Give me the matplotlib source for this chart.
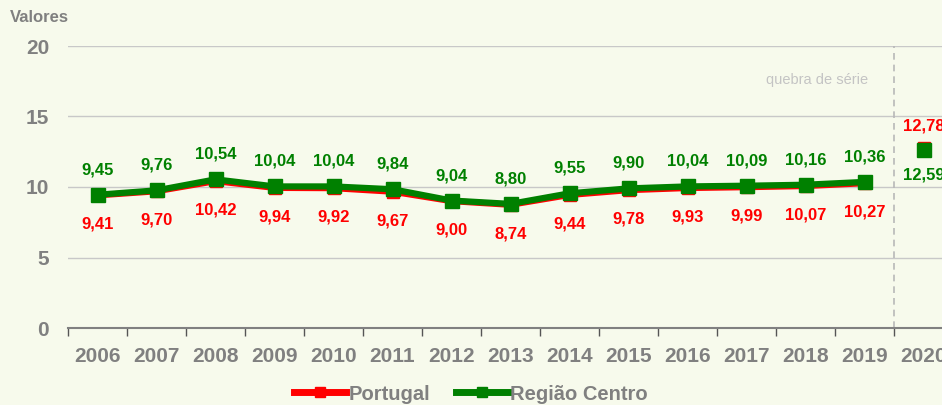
import matplotlib
matplotlib.use("Agg")
import matplotlib.pyplot as plt

plt.rcParams['font.family'] = ['Liberation Sans', 'DejaVu Sans']

# data
years = ['2006', '2007', '2008', '2009', '2010', '2011', '2012', '2013',
         '2014', '2015', '2016', '2017', '2018', '2019', '2020']
portugal = [9.41, 9.70, 10.42, 9.94, 9.92, 9.67, 9.00, 8.74,
            9.44, 9.78, 9.93, 9.99, 10.07, 10.27]
centro = [9.45, 9.76, 10.54, 10.04, 10.04, 9.84, 9.04, 8.80,
          9.55, 9.90, 10.04, 10.09, 10.16, 10.36]
portugal_2020 = 12.78
centro_2020 = 12.59
yticks = [0, 5, 10, 15, 20]

bg = '#F7FAEC'
gray = '#808080'
red = '#FF0000'
green = '#008000'

fig = plt.figure(figsize=(9.42, 4.05), dpi=100, facecolor=bg)
ax = fig.add_axes([68/942, 77/405, 885/942, 282/405], facecolor=bg)

x = list(range(len(portugal)))
ax.plot(x, portugal, color=red, lw=4.5, marker='s', ms=9, zorder=3)
ax.plot(x, centro, color=green, lw=4.5, marker='s', ms=9.5, zorder=4)
x20 = len(years) - 1
ax.plot([x20], [portugal_2020], color=red, marker='s', ms=9, lw=0, zorder=3)
ax.plot([x20], [centro_2020], color=green, marker='s', ms=9.5, lw=0, zorder=4)

def fmt(v):
    return ('%.2f' % v).replace('.', ',')

for i in x:
    ax.annotate(fmt(centro[i]), (i, centro[i]), xytext=(0, 18), textcoords='offset points',
                ha='center', va='center', color=green, fontsize=12, fontweight='bold')
    ax.annotate(fmt(portugal[i]), (i, portugal[i]), xytext=(0, -21), textcoords='offset points',
                ha='center', va='center', color=red, fontsize=12, fontweight='bold')
ax.annotate(fmt(portugal_2020), (x20, portugal_2020), xytext=(0, 16), textcoords='offset points',
            ha='center', va='center', color=red, fontsize=12, fontweight='bold')
ax.annotate(fmt(centro_2020), (x20, centro_2020), xytext=(0, -18), textcoords='offset points',
            ha='center', va='center', color=green, fontsize=12, fontweight='bold')

# series break
ax.axvline(13.5, color='#B8B8B8', lw=1.2, ls=(0, (4, 3)), zorder=2)
ax.text(13.06, 17.6, 'quebra de série', ha='right', va='center', color='#C4C4C4', fontsize=10.5)

ax.set_xlim(-0.5, len(years) - 0.5)
ax.set_ylim(0, 20)
ax.set_yticks(yticks)
ax.set_yticklabels([str(v) for v in yticks])
ax.set_xticks(range(len(years)))
ax.set_xticklabels(years)
ax.set_xticks([i - 0.5 for i in range(len(years) + 1)], minor=True)
ax.tick_params(axis='x', which='major', length=0, pad=13.5, labelsize=15, labelcolor=gray)
ax.tick_params(axis='x', which='minor', length=6, width=1, color='#555555', direction='out')
ax.tick_params(axis='y', length=0, pad=13.5, labelsize=15, labelcolor=gray)
for lab in ax.get_xticklabels() + ax.get_yticklabels():
    lab.set_fontweight('bold')

ax.grid(axis='y', color='#C8C8C8', lw=1)
ax.set_axisbelow(True)
for s in ['top', 'right', 'left']:
    ax.spines[s].set_visible(False)
ax.spines['bottom'].set_color(gray)
ax.spines['bottom'].set_linewidth(1.5)

fig.text(10/942, 1 - 18/405, 'Valores', ha='left', va='center', color=gray,
         fontsize=12, fontweight='bold')

h1, = ax.plot([], [], color=red, lw=5, marker='s', ms=7)
h2, = ax.plot([], [], color=green, lw=5, marker='s', ms=7)
leg = fig.legend([h1, h2], ['Portugal', 'Região Centro'], loc='center',
                 bbox_to_anchor=(0.5, 1 - 394/405), ncol=2, frameon=False,
                 handlelength=2.6, handletextpad=0.1, columnspacing=1.3,
                 prop={'size': 14.5, 'weight': 'bold'})
for t in leg.get_texts():
    t.set_color(gray)

fig.savefig('out.png', dpi=100, facecolor=bg)
